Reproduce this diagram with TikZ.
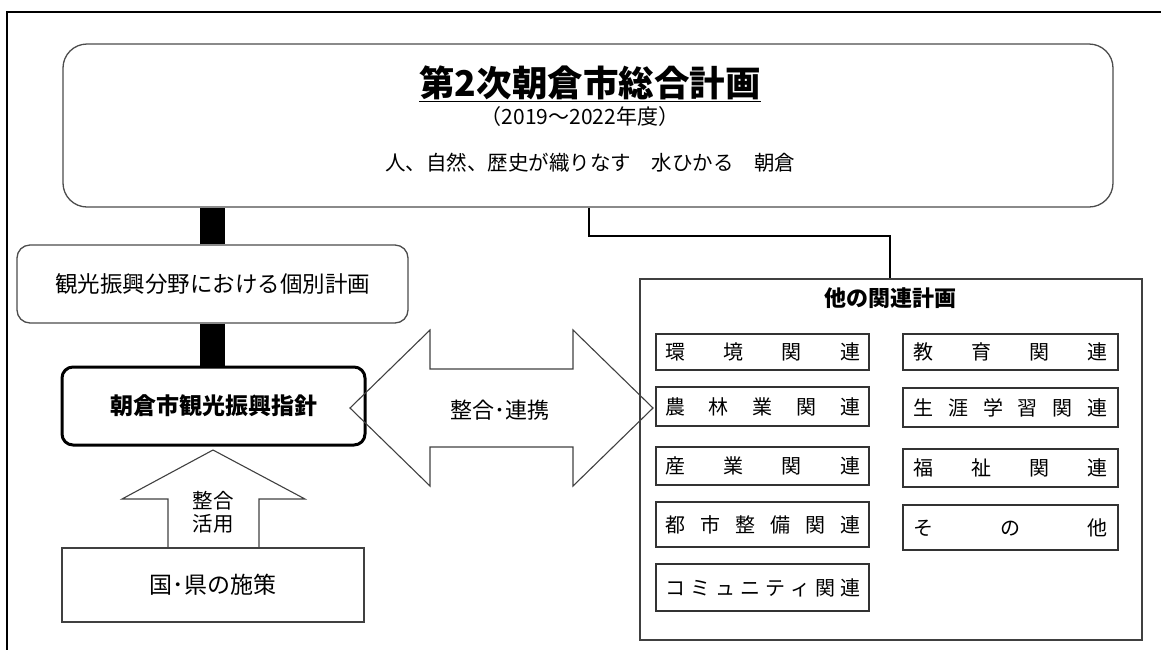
\documentclass[tikz,border=0pt]{standalone}
\usepackage{fontspec}
\setmainfont{Noto Sans CJK JP}
\newcommand{\fs}[1]{\fontsize{#1}{#1}\selectfont}
\begin{document}
\begin{tikzpicture}[x=1pt,y=-1pt,
  frameline/.style={line width=2.4pt, draw=black},
  rbox/.style={draw=black!70, line width=1.3pt, inner sep=0pt},
  ibox/.style={draw=black!80, line width=1.2pt, inner sep=0pt, minimum width=213pt},
  ibox2/.style={draw=black!80, line width=1.2pt, inner sep=0pt, minimum width=215pt},
  bar/.style={line width=25pt, draw=black},
  arr/.style={draw=black!75, line width=1.1pt, line join=miter},
  conn/.style={draw=black, line width=1.5pt}]
\useasboundingbox (0,0) rectangle (1161,649);
% outer frame (right and bottom lie outside the picture)
\draw[frameline] (7,700) -- (7,12) -- (1200,12);

% top box
\node[rbox, rounded corners=24pt, minimum width=1050pt, minimum height=163pt] (top) at (588,125.5) {};
\node[font=\fs{35.5}\bfseries] (title) at (590,84) {\underline{第2次朝倉市総合計画}};
\node[font=\fs{21}] (sub) at (580,117) {（2019～2022年度）};
\node[font=\fs{20.5}] (motto) at (590,163) {人、自然、歴史が織りなす　水ひかる　朝倉};

% left column
\node[rbox, rounded corners=13pt, minimum width=391pt, minimum height=78pt, font=\fs{22.5}] (kanko) at (212.5,284) {観光振興分野における個別計画};
\node[draw=black, line width=3pt, inner sep=0pt, rounded corners=11pt, minimum width=303pt, minimum height=78pt, font=\fs{23}\bfseries] (shishin) at (213.5,406) {朝倉市観光振興指針};
\node[rbox, draw=black!75, minimum width=302pt, minimum height=74pt, font=\fs{23}] (kuni) at (213,585) {国･県の施策};

\draw[bar] (kanko.north) -- (kanko.north |- top.south);
\draw[bar] (kanko.south) -- (kanko.south |- shishin.north);

% up arrow
\draw[arr] (168,548) -- (168,499) -- (122,499) -- (213,450) -- (305,499) -- (259,499) -- (259,548);
\node[font=\fs{20.5}, align=center, inner sep=0pt] (seigo) at (213,512) {整合\\[3pt]活用};

% other plans
\node[rbox, draw=black!75, minimum width=502pt, minimum height=361pt] (other) at (891,459.5) {};
\node[font=\fs{22}\bfseries] (othert) at (890,298) {他の関連計画};

\coordinate (c1) at (589,236);
\draw[conn] (top.south -| c1) -- (c1) -| (other.north -| 890,0);

% double arrow
\draw[arr] (350,408) -- (430,330) -- (430,369) -- (573,369) -- (573,330) -- (653,408)
  -- (573,486) -- (573,447) -- (430,447) -- (430,486) -- cycle;
\node[font=\fs{22}] (renkei) at (500,410) {整合･連携};

% inner boxes
\begin{scope}[font=\fs{20}]
\node[ibox, minimum height=36pt] (a1) at (762.5,352) {\makebox[195pt]{環\hfill 境\hfill 関\hfill 連}};
\node[ibox, minimum height=39pt] (a2) at (762.5,406.5) {\makebox[195pt]{農\hfill 林\hfill 業\hfill 関\hfill 連}};
\node[ibox, minimum height=38pt] (a3) at (762.5,466) {\makebox[195pt]{産\hfill 業\hfill 関\hfill 連}};
\node[ibox, minimum height=45pt] (a4) at (762.5,524.5) {\makebox[195pt]{都\hfill 市\hfill 整\hfill 備\hfill 関\hfill 連}};
\node[ibox, minimum height=47pt] (a5) at (762.5,587.5) {\makebox[195pt]{コ\hfill ミ\hfill ュ\hfill ニ\hfill テ\hfill ィ\hfill 関\hfill 連}};
\node[ibox2, minimum height=36pt] (b1) at (1010.5,352) {\makebox[194pt]{教\hfill 育\hfill 関\hfill 連}};
\node[ibox2, minimum height=39pt] (b2) at (1010.5,407.5) {\makebox[194pt]{生\hfill 涯\hfill 学\hfill 習\hfill 関\hfill 連}};
\node[ibox2, minimum height=38pt] (b3) at (1010.5,468) {\makebox[194pt]{福\hfill 祉\hfill 関\hfill 連}};
\node[ibox2, minimum height=45pt] (b4) at (1010.5,527.5) {\makebox[194pt]{そ\hfill の\hfill 他}};
\end{scope}
\end{tikzpicture}
\end{document}
